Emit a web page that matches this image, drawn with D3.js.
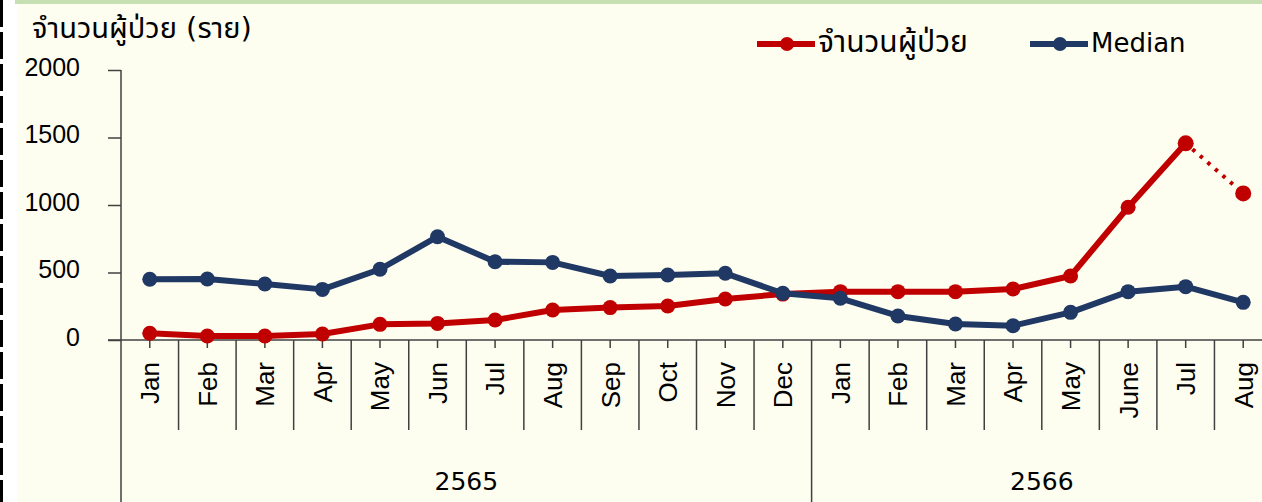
<!DOCTYPE html>
<html>
<head>
<meta charset="utf-8">
<script src="https://cdn.jsdelivr.net/npm/d3@7"></script>
<style>
  html, body { margin: 0; padding: 0; background: #fff; }
  svg { display: block; font-family: Tahoma, "DejaVu Sans", "Noto Sans Thai", "Noto Sans", sans-serif; }
  .axis path, .axis line { stroke: #404040; stroke-width: 1.5; }
  .axis text { fill: #000; font-size: 25px; font-family: inherit; }
</style>
</head>
<body>
<div id="chart"></div>
<script>
// Data
const months = ["Jan", "Feb", "Mar", "Apr", "May", "Jun", "Jul", "Aug", "Sep", "Oct", "Nov", "Dec",
                "Jan", "Feb", "Mar", "Apr", "May", "June", "Jul", "Aug"];
const years = ["2565", "2566"];
const yearMonths = [12, 8];
const patients = [50, 30, 30, 44, 116, 123, 148, 222, 240, 252, 304, 340,
                  358, 358, 358, 378, 474, 983, 1457, 1086];
const median = [450, 452, 415, 375, 524, 765, 580, 575, 474, 481, 494, 346,
                309, 178, 118, 106, 205, 358, 395, 279];
const yTicks = [0, 500, 1000, 1500, 2000];
const seriesNames = ["จำนวนผู้ป่วย", "Median"];
const yTitle = "จำนวนผู้ป่วย (ราย)";
const lastActual = 18; // after this month the red line is a dotted estimate

const W = 1262, H = 502;
const red = "#C00000", blue = "#203864";

const svg = d3.select("#chart")
    .append("svg")
    .attr("width", W)
    .attr("height", H);

// Background
svg.append("rect").attr("width", W).attr("height", H).attr("fill", "#fff");
svg.append("rect").attr("x", 17).attr("y", 0).attr("width", W - 17).attr("height", H).attr("fill", "#FEFEF0");
svg.append("rect").attr("x", 15).attr("y", 0).attr("width", W - 15).attr("height", 4).attr("fill", "#C6E0B4");
svg.append("line")
    .attr("x1", 1.5).attr("x2", 1.5).attr("y1", 0).attr("y2", H)
    .attr("stroke", "#000").attr("stroke-width", 3)
    .attr("stroke-dasharray", "27,5");

// Scales
const x = d3.scaleBand()
    .domain(d3.range(months.length))
    .range([121, 1272]);

const y = d3.scaleLinear()
    .domain([0, 2000])
    .range([340, 70]);

const cx = i => x(i) + x.bandwidth() / 2;

// Y axis
const yAxis = svg.append("g")
    .attr("class", "axis")
    .attr("transform", "translate(121,0)")
    .call(d3.axisLeft(y).tickValues(yTicks).tickSize(13).tickSizeOuter(0).tickPadding(28).tickFormat(d3.format("d")));
yAxis.selectAll("text").attr("dy", "0.2em");
yAxis.select(".domain").remove();
svg.append("line")
    .attr("x1", 121).attr("x2", 121).attr("y1", y(2000)).attr("y2", H)
    .attr("stroke", "#404040").attr("stroke-width", 1.5);

// X axis
const xAxis = svg.append("g")
    .attr("class", "axis")
    .attr("transform", `translate(0,${y(0)})`)
    .call(d3.axisBottom(x).tickSize(8).tickSizeOuter(0).tickFormat(i => months[i]));
xAxis.select(".domain").remove();
xAxis.selectAll("text")
    .attr("transform", "rotate(-90)")
    .attr("x", -22)
    .attr("y", 0)
    .attr("dy", "0.36em")
    .attr("text-anchor", "end")
    .style("font-size", "26px");
svg.append("line")
    .attr("x1", 108).attr("x2", W).attr("y1", y(0)).attr("y2", y(0))
    .attr("stroke", "#404040").attr("stroke-width", 1.5);

// Month separators and year groups
const yearStarts = d3.cumsum([0, ...yearMonths]).slice(0, -1);
d3.range(1, months.length).forEach(i => {
    const major = yearStarts.includes(i);
    svg.append("line")
        .attr("x1", x(i)).attr("x2", x(i))
        .attr("y1", y(0)).attr("y2", major ? H : 430)
        .attr("stroke", "#404040").attr("stroke-width", 1.5);
});
years.forEach((yr, k) => {
    const a = x(yearStarts[k]);
    const b = x(yearStarts[k] + yearMonths[k] - 1) + x.bandwidth();
    svg.append("text")
        .attr("x", (a + b) / 2)
        .attr("y", 490)
        .attr("text-anchor", "middle")
        .attr("font-size", 25)
        .attr("fill", "#000")
        .text(yr);
});

// Title
svg.append("text")
    .attr("x", 32)
    .attr("y", 38)
    .attr("font-size", 29)
    .attr("fill", "#000")
    .text(yTitle);

// Lines
const line = d3.line().x((d, i) => cx(i)).y(d => y(d));

function drawSeries(values, color, solidTo) {
    svg.append("path")
        .datum(values.slice(0, solidTo + 1))
        .attr("d", line)
        .attr("fill", "none")
        .attr("stroke", color)
        .attr("stroke-width", 6)
        .attr("stroke-linejoin", "round");
    if (solidTo < values.length - 1) {
        const seg = values.slice(solidTo).map((v, j) => [cx(solidTo + j), y(v)]);
        svg.append("path")
            .attr("d", d3.line()(seg))
            .attr("fill", "none")
            .attr("stroke", color)
            .attr("stroke-width", 4)
            .attr("stroke-dasharray", "3.5,6.5")
            .attr("stroke-dashoffset", -9);
    }
    svg.selectAll(null)
        .data(values)
        .enter()
        .append("circle")
        .attr("cx", (d, i) => cx(i))
        .attr("cy", d => y(d))
        .attr("r", (d, i) => (solidTo < values.length - 1 && i >= solidTo) ? 8 : 7.5)
        .attr("fill", color);
}

drawSeries(patients, red, lastActual);
drawSeries(median, blue, median.length - 1);

// Legend
const legend = [
    { name: seriesNames[0], color: red, x: 757, size: 30 },
    { name: seriesNames[1], color: blue, x: 1030, size: 26 }
];
legend.forEach(l => {
    svg.append("line")
        .attr("x1", l.x).attr("x2", l.x + 58)
        .attr("y1", 44).attr("y2", 44)
        .attr("stroke", l.color).attr("stroke-width", 6);
    svg.append("circle")
        .attr("cx", l.x + 30).attr("cy", 44).attr("r", 7)
        .attr("fill", l.color);
    svg.append("text")
        .attr("x", l.x + 61)
        .attr("y", 52)
        .attr("font-size", l.size)
        .attr("fill", "#000")
        .text(l.name);
});
</script>
</body>
</html>
